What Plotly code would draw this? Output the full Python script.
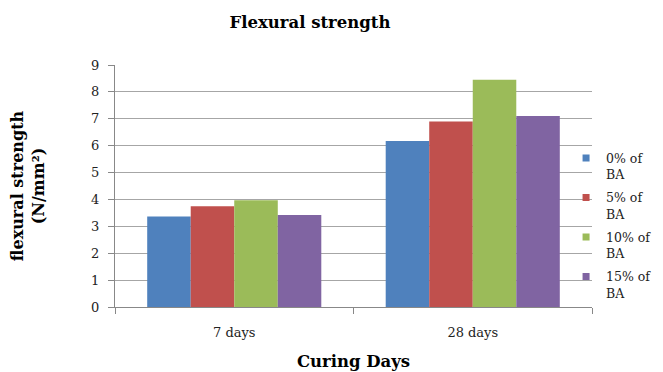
import plotly.graph_objects as go

categories = ["7 days", "28 days"]
series_names = ["0% of<br>BA", "5% of<br>BA", "10% of<br>BA", "15% of<br>BA"]
values_0 = [3.37, 6.17]
values_5 = [3.75, 6.9]
values_10 = [3.97, 8.45]
values_15 = [3.42, 7.1]
colors = ["#4F81BD", "#C0504D", "#9BBB59", "#8064A2"]
y_ticks = [0, 1, 2, 3, 4, 5, 6, 7, 8, 9]

serif = "DejaVu Serif, Liberation Serif, serif"

fig = go.Figure()
for name, vals, col in zip(series_names, [values_0, values_5, values_10, values_15], colors):
    fig.add_trace(go.Bar(x=categories, y=vals, name=name, showlegend=False,
                         marker=dict(color=col, line=dict(width=0))))
# legend entries with small square markers
for i, (name, col) in enumerate(zip(series_names, colors)):
    fig.add_trace(go.Scatter(x=[None], y=[None], mode="markers", name=name,
                             legendgroup="g%d" % i,
                             marker=dict(symbol="square", size=7, color=col)))

W, H = 655, 364  # page body adds an 8px offset

fig.update_layout(
    width=W, height=H,
    paper_bgcolor="white", plot_bgcolor="white",
    margin=dict(l=107, r=71, t=57, b=65, autoexpand=False),
    barmode="group", bargap=0.27, bargroupgap=0,
    font=dict(family=serif, size=12, color="#222"),
    title=dict(text="<b>Flexural strength</b>", xref="container", x=0.461, xanchor="center",
               yref="container", y=0.96, yanchor="middle",
               font=dict(size=16.5, family=serif, color="black")),
    legend=dict(xref="container", x=0.852, xanchor="left",
                yref="container", y=0.628, yanchor="top", valign="top",
                font=dict(size=12.5, family=serif, color="#222"),
                itemwidth=30, tracegroupgap=4, bgcolor="rgba(0,0,0,0)"),
    xaxis=dict(
        title=dict(text="<b>Curing Days</b>", font=dict(size=16.5, family=serif, color="black"), standoff=16),
        showline=True, linecolor="#888", linewidth=1,
        ticks="outside", tickson="boundaries", ticklen=6, tickcolor="#888",
        ticklabelstandoff=13,
        tickfont=dict(size=13, family=serif, color="#222"),
        showgrid=False, automargin=False,
    ),
    yaxis=dict(
        title=dict(text="<b>flexural strength<br>(N/mm²)</b>", font=dict(size=16, family=serif, color="black"), standoff=45),
        range=[0, 9], tickvals=y_ticks, showline=True, linecolor="#888", linewidth=1,
        ticks="outside", ticklen=6, tickcolor="#888",
        ticklabelstandoff=6,
        showgrid=True, gridcolor="#a6a6a6", gridwidth=1,
        tickfont=dict(size=13, family=serif, color="#222"),
        zeroline=False, automargin=False,
    ),
)

fig.write_html("out.html")
